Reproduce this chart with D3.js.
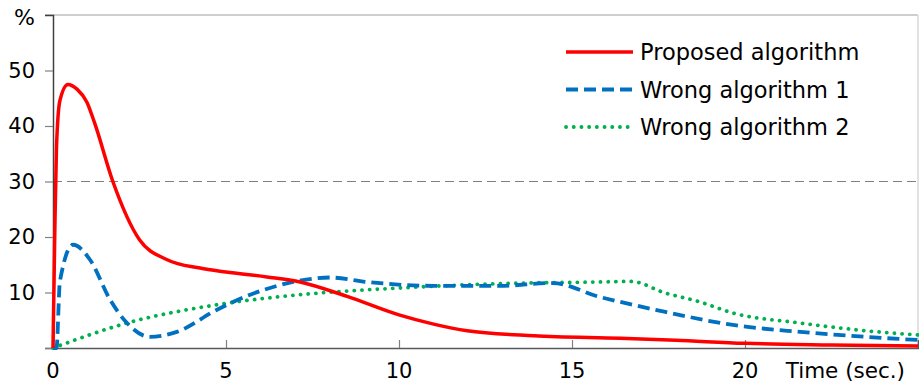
<!DOCTYPE html>
<html>
<head>
<meta charset="utf-8">
<script src="https://cdn.jsdelivr.net/npm/d3@7"></script>
<style>
  body { margin: 0; background: #fff; }
  text { font-family: "DejaVu Sans", sans-serif; fill: #000; }
</style>
</head>
<body>
<div id="chart"></div>
<script>
// chart data
var proposedX = [0, 0.05, 0.1, 0.2, 0.43, 0.7, 0.98, 1.2, 1.73, 2.5, 3.3, 4.25, 5.0, 6.18, 7.14, 8.5, 10.0, 11.0, 11.97, 13.9, 16.4, 18.0, 20.0, 22.5, 25.0];
var proposedY = [0, 20, 36, 44.6, 47.5, 46.6, 44.3, 40.6, 30.0, 19.5, 15.9, 14.4, 13.7, 12.8, 11.9, 9.3, 5.96, 4.3, 3.1, 2.2, 1.75, 1.4, 0.84, 0.55, 0.36];

var wrong1X = [0, 0.1, 0.2, 0.58, 1.07, 1.65, 2.14, 2.8, 3.58, 4.74, 5.7, 6.94, 8.0, 9.07, 11.0, 12.9, 14.45, 15.8, 16.4, 17.7, 19.65, 21.6, 23.5, 25.0];
var wrong1Y = [0, 0, 12, 18.6, 15.9, 8.7, 4.5, 2.0, 2.9, 6.9, 9.6, 11.9, 12.7, 11.9, 11.2, 11.2, 11.7, 9.2, 8.3, 6.5, 4.15, 2.9, 2.0, 1.44];

var wrong2X = [0, 2.14, 4.74, 7.14, 10.0, 12.9, 15.8, 16.7, 17.7, 18.7, 19.65, 21.6, 23.5, 25.0];
var wrong2Y = [0, 4.5, 7.8, 9.6, 10.8, 11.6, 11.9, 12.0, 9.9, 8.3, 6.3, 4.5, 3.1, 2.35];

var seriesNames = ["Proposed algorithm", "Wrong algorithm 1", "Wrong algorithm 2"];
var xTicks = [0, 5, 10, 15, 20];
var yTicks = [0, 10, 20, 30, 40, 50];

var svgWidth = 919;
var svgHeight = 385;

var svg = d3.select("#chart")
  .append("svg")
  .attr("width", svgWidth)
  .attr("height", svgHeight);

var xScale = d3.scaleLinear().domain([0, 25]).range([53, 918]);
var yScale = d3.scaleLinear().domain([0, 60]).range([348, 15]);

// frame lines (top and right)
svg.append("line")
  .attr("x1", 45).attr("x2", xScale(25))
  .attr("y1", yScale(60)).attr("y2", yScale(60))
  .attr("stroke", "#bfbfbf").attr("stroke-width", 1.5);
svg.append("line")
  .attr("x1", xScale(25)).attr("x2", xScale(25))
  .attr("y1", yScale(60)).attr("y2", yScale(0))
  .attr("stroke", "#d9d9d9").attr("stroke-width", 1.5);

// dashed 30% reference line
svg.append("line")
  .attr("x1", xScale(0)).attr("x2", xScale(25))
  .attr("y1", yScale(30)).attr("y2", yScale(30))
  .attr("stroke", "#808080").attr("stroke-width", 1.2)
  .attr("stroke-dasharray", "9,5");

// y axis
var leftAxis = d3.axisLeft(yScale).tickValues(yTicks).tickSize(8).tickPadding(10);
var gy = svg.append("g")
  .attr("transform", `translate(${xScale(0)},0)`)
  .call(leftAxis);
gy.select(".domain").attr("stroke", "#404040").attr("stroke-width", 1.5);
gy.selectAll(".tick line").attr("stroke", "#808080").attr("stroke-width", 1.2);
gy.selectAll(".tick text").style("font-size", "21px").attr("fill", "#000");
gy.selectAll(".tick").filter(d => d === 0).select("text").remove();

svg.append("text")
  .attr("x", 35).attr("y", 25)
  .attr("text-anchor", "end")
  .style("font-size", "22px")
  .text("%");

// x axis, ticks point up into the plot
var bottomAxis = d3.axisTop(xScale).tickValues(xTicks).tickSize(8).tickFormat("");
var gx = svg.append("g")
  .attr("transform", `translate(0,${yScale(0)})`)
  .call(bottomAxis);
gx.select(".domain").attr("stroke", "#595959").attr("stroke-width", 1.5);
gx.selectAll(".tick line").attr("stroke", "#808080").attr("stroke-width", 1.2)
  .filter(d => d === 0).remove();

svg.append("g").selectAll("text")
  .data(xTicks)
  .enter()
  .append("text")
  .attr("x", d => xScale(d))
  .attr("y", 378)
  .attr("text-anchor", "middle")
  .style("font-size", "21px")
  .text(d => d);

svg.append("text")
  .attr("x", 905).attr("y", 378)
  .attr("text-anchor", "end")
  .style("font-size", "21.5px")
  .text("Time (sec.)");

// lines
var line = d3.line()
  .x(d => xScale(d[0]))
  .y(d => yScale(d[1]))
  .curve(d3.curveMonotoneX);

var plot = svg.append("g");

plot.append("path")
  .datum(wrong2X.map((x, i) => [x, wrong2Y[i]]))
  .attr("d", line)
  .attr("fill", "none")
  .attr("stroke", "#00b050")
  .attr("stroke-width", 3.8)
  .attr("stroke-linecap", "round")
  .attr("stroke-dasharray", "0.1,7.6");

plot.append("path")
  .datum(wrong1X.map((x, i) => [x, wrong1Y[i]]))
  .attr("d", line)
  .attr("fill", "none")
  .attr("stroke", "#0070c0")
  .attr("stroke-width", 3.8)
  .attr("stroke-dasharray", "12,6");

plot.append("path")
  .datum(proposedX.map((x, i) => [x, proposedY[i]]))
  .attr("d", line)
  .attr("fill", "none")
  .attr("stroke", "#ff0000")
  .attr("stroke-width", 3.5);

// legend
var legendStyles = [
  { color: "#ff0000", width: 3.5, dash: null, cap: "butt" },
  { color: "#0070c0", width: 3.8, dash: "12,6", cap: "butt" },
  { color: "#00b050", width: 3.8, dash: "0.1,7.6", cap: "round" }
];

var legend = svg.append("g").selectAll("g")
  .data(seriesNames)
  .enter()
  .append("g")
  .attr("transform", (d, i) => `translate(0,${52 + i * 37.5})`);

legend.append("line")
  .attr("x1", 566).attr("x2", 633)
  .attr("y1", 0).attr("y2", 0)
  .attr("stroke", (d, i) => legendStyles[i].color)
  .attr("stroke-width", (d, i) => legendStyles[i].width)
  .attr("stroke-linecap", (d, i) => legendStyles[i].cap)
  .attr("stroke-dasharray", (d, i) => legendStyles[i].dash);

legend.append("text")
  .attr("x", 640).attr("y", 8)
  .style("font-size", "22.5px")
  .text(d => d);
</script>
</body>
</html>
